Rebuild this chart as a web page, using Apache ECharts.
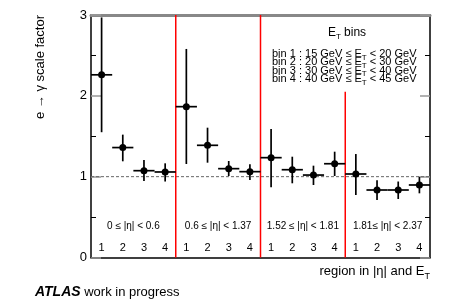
<!DOCTYPE html>
<html>
<head>
<meta charset="utf-8">
<script src="https://cdn.jsdelivr.net/npm/echarts@6/dist/echarts.min.js"></script>
<style>html,body{margin:0;padding:0;background:#fff}#c{width:453px;height:307px}</style>
</head>
<body>
<div id="c"></div>
<script>
// ---- data ----
const binLabels = ['1','2','3','4','1','2','3','4','1','2','3','4','1','2','3','4'];
const etaRegions = ['0 \u2264 |\u03b7| < 0.6', '0.6 \u2264 |\u03b7| < 1.37', '1.52 \u2264 |\u03b7| < 1.81', '1.81\u2264 |\u03b7| < 2.37'];
const scaleFactor = [2.26, 1.36, 1.074, 1.058, 1.866, 1.388, 1.099, 1.062, 1.235, 1.086, 1.02, 1.16, 1.033, 0.835, 0.835, 0.897];
const upperBound  = [2.97, 1.52, 1.206, 1.165, 2.58, 1.606, 1.194, 1.153, 1.59, 1.247, 1.136, 1.309, 1.28, 0.955, 0.94, 1.0];
const lowerBound  = [1.55, 1.19, 0.946, 0.94, 1.157, 1.173, 1.008, 0.959, 0.868, 0.918, 0.897, 1.008, 0.773, 0.71, 0.724, 0.794];
const dividers = [4, 8, 12];
const dividerTop = [3, 3, 2.05];
const refValue = 1;
const yTicks = [0, 1, 2, 3];
const etBinLines = [
  ['bin 1 : 15 GeV \u2264 E', ' < 20 GeV'],
  ['bin 2 : 20 GeV \u2264 E', ' < 30 GeV'],
  ['bin 3 : 30 GeV \u2264 E', ' < 40 GeV'],
  ['bin 4 : 40 GeV \u2264 E', ' < 45 GeV']
];

const FONT = "'Liberation Sans', Arial, sans-serif";
const chart = echarts.init(document.getElementById('c'), null, {renderer: 'canvas'});

const pointData = scaleFactor.map((v, i) => [i + 0.5, v, lowerBound[i], upperBound[i]]);
const binLabelData = binLabels.map((l, i) => [i + 0.5, 0.12, l]);
const etaLabelData = etaRegions.map((l, i) => [i * 4 + 2, 0.39, l]);
const dividerData = dividers.map((d, i) => [d, dividerTop[i]]);

const subRich = {
  a: {fontSize: 11, fontFamily: FONT, color: '#000', lineHeight: 11, verticalAlign: 'top'},
  t: {fontSize: 8, fontFamily: FONT, color: '#000', lineHeight: 8, padding: [5, 0, 0, 0], verticalAlign: 'top'}
};

const graphics = [
  {type: 'text', x: 40, y: 15, rotation: Math.PI / 2,
   style: {text: 'e \u2192 \u03b3 scale factor', font: '13px ' + FONT, fill: '#000', align: 'right', verticalAlign: 'middle'}},
  {type: 'text', x: 430, y: 265,
   style: {text: '{a|region in |\u03b7| and E}{t|T}', align: 'right', verticalAlign: 'top',
     rich: {a: {fontSize: 13, fontFamily: FONT, color: '#000', lineHeight: 13, verticalAlign: 'top'},
            t: {fontSize: 9, fontFamily: FONT, color: '#000', lineHeight: 9, padding: [7, 0, 0, 0], verticalAlign: 'top'}}}},
  {type: 'text', x: 35, y: 292,
   style: {text: '{b|ATLAS}{n| work in progress}', verticalAlign: 'middle',
     rich: {b: {fontSize: 14, fontFamily: FONT, fontWeight: 'bold', fontStyle: 'italic', color: '#000'},
            n: {fontSize: 13, fontFamily: FONT, color: '#000'}}}},
  {type: 'text', x: 347, y: 27,
   style: {text: '{a|E}{t|T}{a| bins}', align: 'center', verticalAlign: 'top',
     rich: {a: {fontSize: 12, fontFamily: FONT, color: '#000', lineHeight: 12, verticalAlign: 'top'},
            t: {fontSize: 8, fontFamily: FONT, color: '#000', lineHeight: 8, padding: [6, 0, 0, 0], verticalAlign: 'top'}}}}
];
etBinLines.forEach((ln, i) => {
  graphics.push({type: 'text', x: 272, y: 48.6 + i * 8.3,
    style: {text: '{a|' + ln[0] + '}{t|T}{a|' + ln[1] + '}', align: 'left', verticalAlign: 'top', rich: subRich}});
});

chart.setOption({
  animation: false,
  backgroundColor: '#fff',
  grid: {left: 91, right: 23, top: 15, bottom: 49.5},
  xAxis: [
    {type: 'value', min: 0, max: 16, position: 'bottom',
     axisLine: {show: true, onZero: false, lineStyle: {color: '#000', width: 1.5}},
     axisTick: {show: false}, axisLabel: {show: false}, splitLine: {show: false}},
    {type: 'value', min: 0, max: 16, position: 'top',
     axisLine: {show: true, onZero: false, lineStyle: {color: '#888', width: 3}},
     axisTick: {show: false}, axisLabel: {show: false}, splitLine: {show: false}}
  ],
  yAxis: [
    {type: 'value', min: 0, max: 3, interval: 1, position: 'left',
     axisLine: {show: true, onZero: false, lineStyle: {color: '#000', width: 1.5}},
     axisTick: {show: true, inside: true, length: 10, lineStyle: {color: '#999', width: 1.5}},
     minorTick: {show: true, splitNumber: 2, length: 5, lineStyle: {color: '#000', width: 1}},
     axisLabel: {show: true, fontSize: 13, fontFamily: FONT, color: '#000', margin: 4,
       formatter: v => (yTicks.indexOf(v) >= 0 ? String(v) : '')},
     splitLine: {show: false}},
    {type: 'value', min: 0, max: 3, interval: 1, position: 'right',
     axisLine: {show: true, onZero: false, lineStyle: {color: '#000', width: 1.5}},
     axisTick: {show: true, inside: true, length: 10, lineStyle: {color: '#999', width: 1.5}},
     minorTick: {show: true, splitNumber: 2, length: 5, lineStyle: {color: '#000', width: 1}},
     axisLabel: {show: false}, splitLine: {show: false}}
  ],
  graphic: graphics,
  series: [
    {type: 'line', data: [[0, refValue], [16, refValue]], symbol: 'none', silent: true, z: 1,
     lineStyle: {color: '#666', width: 1, type: [3, 2]}},
    {type: 'custom', data: dividerData, z: 2, silent: true,
     renderItem: (params, api) => {
       const b = api.coord([api.value(0), 0]);
       const t = api.coord([api.value(0), api.value(1)]);
       return {type: 'line', shape: {x1: b[0], y1: b[1], x2: t[0], y2: t[1]},
               style: {stroke: '#ff0000', lineWidth: 1.5}};
     }},
    {type: 'custom', data: pointData, z: 3, silent: true,
     renderItem: (params, api) => {
       const x = api.value(0), y = api.value(1), lo = api.value(2), hi = api.value(3);
       const p = api.coord([x, y]);
       const pl = api.coord([x - 0.5, y]);
       const pr = api.coord([x + 0.5, y]);
       const ph = api.coord([x, hi]);
       const plo = api.coord([x, lo]);
       const st = {stroke: '#000', lineWidth: 1.7};
       return {type: 'group', children: [
         {type: 'line', shape: {x1: pl[0], y1: p[1], x2: pr[0], y2: p[1]}, style: st},
         {type: 'line', shape: {x1: p[0], y1: ph[1], x2: p[0], y2: plo[1]}, style: st},
         {type: 'circle', shape: {cx: p[0], cy: p[1], r: 3.5}, style: {fill: '#000'}}
       ]};
     }},
    {type: 'custom', data: binLabelData, z: 4, silent: true,
     renderItem: (params, api) => {
       const p = api.coord([api.value(0), api.value(1)]);
       return {type: 'text', x: p[0], y: p[1],
         style: {text: binLabels[params.dataIndex], font: '11px ' + FONT, fill: '#000', align: 'center', verticalAlign: 'middle'}};
     }},
    {type: 'custom', data: etaLabelData, z: 4, silent: true,
     renderItem: (params, api) => {
       const p = api.coord([api.value(0), api.value(1)]);
       return {type: 'text', x: p[0], y: p[1],
         style: {text: etaRegions[params.dataIndex], font: '10px ' + FONT, fill: '#000', align: 'center', verticalAlign: 'middle'}};
     }}
  ]
});
</script>
</body>
</html>
